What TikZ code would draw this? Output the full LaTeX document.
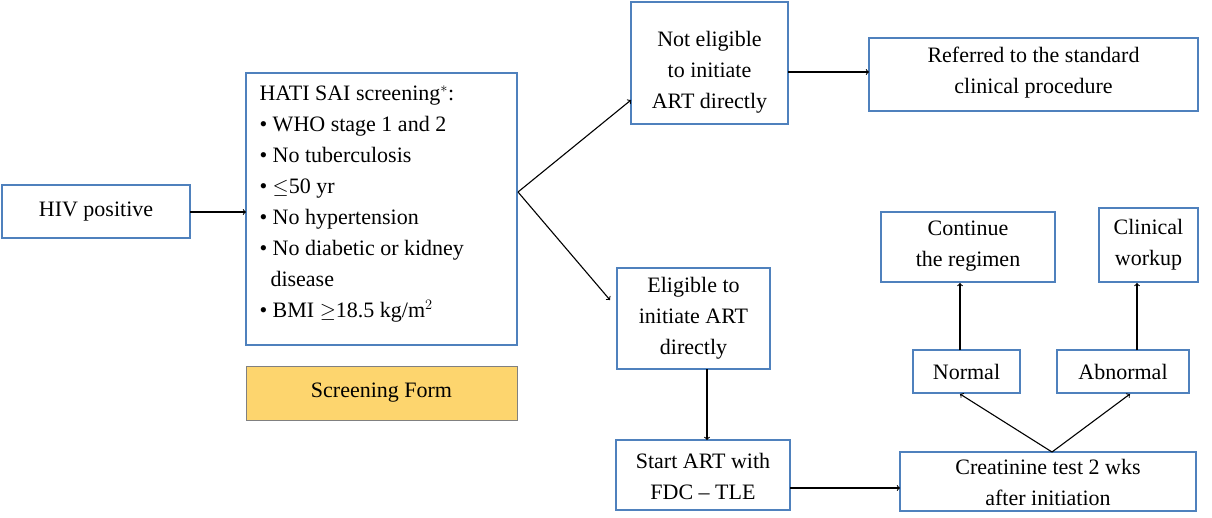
\documentclass[tikz,border=0pt]{standalone}
\usepackage{fontspec}
\setmainfont{Liberation Serif}
\begin{document}
\begin{tikzpicture}[x=1pt,y=-1pt,
 box/.style={draw=bx,line width=1.2pt,inner sep=0pt},
 lbl/.style={font=\fontsize{22}{31}\selectfont,align=center},
 arr/.style={->,line width=1.1pt,>=to}]
\definecolor{bx}{HTML}{4F81BD}
\definecolor{sf}{HTML}{FDD56E}
\useasboundingbox (0,0) rectangle (1212,517);
\draw[box] (2,185) rectangle (190,238); \node[lbl] (hiv) at (96,211.5) {HIV positive};
\draw[box] (246,73) rectangle (517,345);
\node[font=\fontsize{22}{31}\selectfont,align=left,anchor=north west] (hati) at (256,82) {HATI SAI screening$^{*}$:\\
• WHO stage 1 and 2\\ • No tuberculosis\\ • $\leq$50 yr\\ • No hypertension\\ • No diabetic or kidney\\ \ \ disease\\ • BMI $\geq$18.5 kg/m$^2$};
\draw[draw=gray,fill=sf,line width=1pt] (246,366) rectangle (517,420);
\node[lbl] (sf) at (381.5,393) {Screening Form};
\draw[box] (631,2) rectangle (788,124); \node[lbl] (ne) at (709.5,72) {Not eligible\\to initiate\\ART directly};
\draw[box] (869,38) rectangle (1198,111); \node[lbl] (ref) at (1033.5,73) {Referred to the standard\\clinical procedure};
\draw[box] (617,268) rectangle (770,369); \node[lbl] (el) at (693.5,318) {Eligible to\\initiate ART\\directly};
\draw[box] (616,440) rectangle (790,510); \node[lbl] (st) at (703,476) {Start ART with\\FDC -- TLE};
\draw[box] (900,452) rectangle (1196,511); \node[lbl] (cr) at (1048,482) {Creatinine test 2 wks\\after initiation};
\draw[box] (913,350) rectangle (1020,393); \node[lbl] (no) at (966.5,371.5) {Normal};
\draw[box] (1057,350) rectangle (1189,393); \node[lbl] (ab) at (1123,371.5) {Abnormal};
\draw[box] (881,212) rectangle (1055,282); \node[lbl] (co) at (968,246) {Continue\\the regimen};
\draw[box] (1099,208) rectangle (1198,282); \node[lbl] (cw) at (1148.5,245) {Clinical\\workup};
\coordinate (h1) at (190,212); \coordinate (h2) at (246,212);
\draw[arr] (h1) -- (h2);
\coordinate (s) at (518,192);
\draw[arr] (s) -- (631,100);
\draw[arr] (s) -- (610,300);
\draw[arr] (788,72) -- (869,72);
\draw[arr] (707,369) -- (707,440);
\draw[arr] (790,488) -- (900,488);
\coordinate (ct) at (1052,452);
\draw[arr] (ct) -- (960,394);
\draw[arr] (ct) -- (1130,394);
\draw[arr] (960,350) -- (960,283);
\draw[arr] (1137,350) -- (1137,283);
\end{tikzpicture}
\end{document}
